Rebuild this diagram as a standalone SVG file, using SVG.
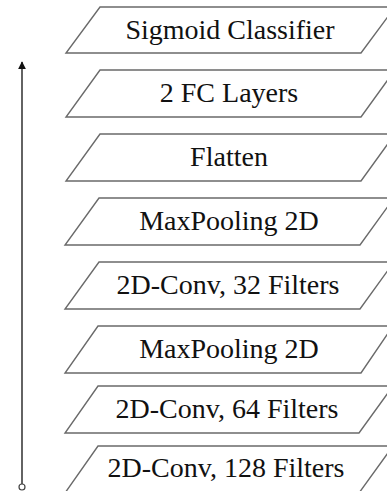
<svg xmlns="http://www.w3.org/2000/svg" width="387" height="491" viewBox="0 0 387 491">
<defs>
<style>
.layer{fill:#fff;stroke:#6a6a6a;stroke-width:1.4}
.lbl{font-size:28px;fill:#111;text-anchor:middle}
.conn{stroke:#222;stroke-width:1.4;fill:none}
</style>
<marker id="ah" viewBox="0 0 10 10" refX="9" refY="5" markerWidth="8" markerHeight="8" markerUnits="userSpaceOnUse" orient="auto">
<path d="M0,0 L10,5 L0,10 z" fill="#111"/>
</marker>
</defs>
<rect width="387" height="491" fill="#fff"/>
<g font-family="'Liberation Serif', 'DejaVu Serif', serif">
<g id="n1"><polygon class="layer" points="100,7 395,7 361,53 66,53"/><text class="lbl" x="230" y="39">Sigmoid Classifier</text></g>
<g id="n2"><polygon class="layer" points="100,70 395,70 361,117 66,117"/><text class="lbl" x="229" y="102">2 FC Layers</text></g>
<g id="n3"><polygon class="layer" points="100,134 395,134 361,181 66,181"/><text class="lbl" x="229" y="166">Flatten</text></g>
<g id="n4"><polygon class="layer" points="99,198 394,198 360,245 65,245"/><text class="lbl" x="229" y="230">MaxPooling 2D</text></g>
<g id="n5"><polygon class="layer" points="99,262 394,262 360,309 65,309"/><text class="lbl" x="228" y="294">2D-Conv, 32 Filters</text></g>
<g id="n6"><polygon class="layer" points="98,326 393,326 361,373 65,373"/><text class="lbl" x="229" y="358">MaxPooling 2D</text></g>
<g id="n7"><polygon class="layer" points="98,386 393,386 359,433 65,433"/><text class="lbl" x="227" y="418">2D-Conv, 64 Filters</text></g>
<g id="n8"><polygon class="layer" points="98,446 393,446 359,493 65,493"/><text class="lbl" x="226" y="477">2D-Conv, 128 Filters</text></g>
</g>
<g id="connectors">
<line class="conn" x1="22" y1="484" x2="22" y2="62" marker-end="url(#ah)"/>
<circle cx="22" cy="487" r="3" fill="#fff" stroke="#444" stroke-width="1.2"/>
</g>
</svg>
